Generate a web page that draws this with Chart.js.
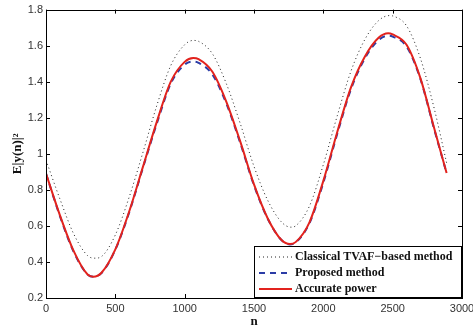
<!DOCTYPE html>
<html>
<head>
<meta charset="utf-8">
<script src="https://cdn.jsdelivr.net/npm/chart.js@4.4.1/dist/chart.umd.min.js"></script>
<style>
  html, body { margin: 0; padding: 0; background: #fff; }
  #wrap { width: 473px; height: 330px; }
</style>
</head>
<body>
<div id="wrap"><canvas id="chart" width="473" height="330"></canvas></div>
<script>
// values
var nAccurate = [0, 100, 200, 300, 341, 400, 500, 600, 700, 800, 900, 1000, 1062, 1100, 1200, 1300, 1400, 1500, 1600, 1700, 1759, 1800, 1900, 2000, 2100, 2200, 2300, 2400, 2468, 2500, 2600, 2700, 2800, 2889];
var accurate = [0.89, 0.66, 0.46, 0.33, 0.318, 0.34, 0.47, 0.68, 0.93, 1.18, 1.40, 1.51, 1.531, 1.525, 1.455, 1.29, 1.07, 0.83, 0.64, 0.52, 0.499, 0.51, 0.62, 0.85, 1.12, 1.37, 1.54, 1.645, 1.669, 1.662, 1.605, 1.42, 1.14, 0.894];
var proposed = [0.89, 0.655, 0.455, 0.33, 0.318, 0.338, 0.468, 0.675, 0.925, 1.17, 1.39, 1.495, 1.512, 1.505, 1.44, 1.28, 1.062, 0.825, 0.638, 0.52, 0.497, 0.508, 0.615, 0.84, 1.11, 1.36, 1.53, 1.632, 1.655, 1.65, 1.595, 1.415, 1.135, 0.893];
var nClassical = [0, 100, 200, 300, 353, 400, 500, 600, 700, 800, 900, 1000, 1062, 1100, 1200, 1300, 1400, 1500, 1600, 1700, 1766, 1800, 1900, 2000, 2100, 2200, 2300, 2400, 2480, 2500, 2600, 2700, 2800, 2889];
var classical = [0.965, 0.75, 0.555, 0.435, 0.421, 0.43, 0.55, 0.76, 1.01, 1.27, 1.49, 1.605, 1.629, 1.624, 1.555, 1.39, 1.17, 0.93, 0.74, 0.62, 0.593, 0.6, 0.71, 0.94, 1.21, 1.46, 1.635, 1.74, 1.767, 1.765, 1.71, 1.53, 1.25, 0.95];

var xTicks = [0, 500, 1000, 1500, 2000, 2500, 3000];
var yTicks = [0.2, 0.4, 0.6, 0.8, 1, 1.2, 1.4, 1.6, 1.8];
var legendLabels = ['Classical TVAF\u2212based method', 'Proposed method', 'Accurate power'];

function pts(xs, ys) {
  return xs.map(function(x, i) { return {x: x, y: ys[i]}; });
}

var RED = '#e2231e', BLUE = '#2b3ca6', DOT = '#222';

// frame, inward ticks and legend box like the matlab figure
var matlabFrame = {
  id: 'matlabFrame',
  afterDatasetsDraw: function(chart) {
    var ctx = chart.ctx, a = chart.chartArea;
    var xs = chart.scales.x, ys = chart.scales.y;
    ctx.save();
    ctx.strokeStyle = '#000';
    ctx.lineWidth = 1;
    ctx.beginPath();
    xTicks.forEach(function(v) {
      var px = Math.round(xs.getPixelForValue(v)) + 0.5;
      ctx.moveTo(px, a.bottom); ctx.lineTo(px, a.bottom - 4);
      ctx.moveTo(px, a.top); ctx.lineTo(px, a.top + 4);
    });
    yTicks.forEach(function(v) {
      var py = Math.round(ys.getPixelForValue(v)) + 0.5;
      ctx.moveTo(a.left, py); ctx.lineTo(a.left + 4, py);
      ctx.moveTo(a.right, py); ctx.lineTo(a.right - 4, py);
    });
    ctx.stroke();
    ctx.strokeRect(Math.round(a.left) + 0.5, Math.round(a.top) + 0.5,
                   Math.round(a.right - a.left), Math.round(a.bottom - a.top));

    // legend
    var bx = 254.5, by = 246.5, bw = 207, bh = 51;
    ctx.fillStyle = '#fff';
    ctx.fillRect(bx, by, bw, bh);
    ctx.strokeRect(bx, by, bw, bh);
    var styles = [
      {c: DOT, w: 1, d: [1, 3]},
      {c: BLUE, w: 2, d: [6, 5]},
      {c: RED, w: 2, d: []}
    ];
    ctx.font = 'bold 12px "Liberation Serif", "Times New Roman", serif';
    ctx.textBaseline = 'middle';
    legendLabels.forEach(function(t, i) {
      var yy = 257 + i * 16;
      ctx.beginPath();
      ctx.strokeStyle = styles[i].c;
      ctx.lineWidth = styles[i].w;
      ctx.setLineDash(styles[i].d);
      ctx.moveTo(259, yy); ctx.lineTo(292, yy);
      ctx.stroke();
      ctx.setLineDash([]);
      ctx.fillStyle = '#111';
      ctx.fillText(t, 295, yy);
    });
    ctx.restore();
  }
};

new Chart(document.getElementById('chart'), {
  type: 'line',
  data: {
    datasets: [
      {
        label: legendLabels[2], data: pts(nAccurate, accurate),
        borderColor: RED, borderWidth: 2, order: 0
      },
      {
        label: legendLabels[1], data: pts(nAccurate, proposed),
        borderColor: BLUE, borderWidth: 2, borderDash: [6, 5], order: 1
      },
      {
        label: legendLabels[0], data: pts(nClassical, classical),
        borderColor: DOT, borderWidth: 1, borderDash: [1, 3], order: 2
      }
    ]
  },
  options: {
    responsive: false,
    animation: false,
    events: [],
    layout: { padding: { top: 9, right: 11, left: 0, bottom: 0 } },
    elements: {
      point: { radius: 0 },
      line: { cubicInterpolationMode: 'monotone', fill: false }
    },
    plugins: { legend: { display: false }, tooltip: { enabled: false } },
    scales: {
      x: {
        type: 'linear', min: 0, max: 3000,
        afterBuildTicks: function(s) { s.ticks = xTicks.map(function(v) { return {value: v}; }); },
        afterFit: function(s) { s.height = 32; s.paddingLeft = 0; s.paddingRight = 0; },
        grid: { display: false, drawTicks: false },
        border: { display: false },
        ticks: {
          padding: 4, color: '#333', maxRotation: 0,
          font: { family: '"Liberation Sans", Arial, sans-serif', size: 11 },
          callback: function(v) { return String(v); }
        },
        title: {
          display: true, text: 'n', color: '#111',
          padding: { top: 0, bottom: 1 },
          font: { family: '"Liberation Serif", "Times New Roman", serif', size: 13, weight: 'bold' }
        }
      },
      y: {
        min: 0.2, max: 1.8,
        afterBuildTicks: function(s) { s.ticks = yTicks.map(function(v) { return {value: v}; }); },
        afterFit: function(s) { s.width = 46; },
        grid: { display: false, drawTicks: false },
        border: { display: false },
        ticks: {
          padding: 3, color: '#333',
          font: { family: '"Liberation Sans", Arial, sans-serif', size: 11 },
          callback: function(v) { return String(Number(v.toFixed(1))); }
        },
        title: {
          display: true, text: 'E|y(n)|\u00b2', color: '#111',
          padding: { top: 10, bottom: 0 },
          font: { family: '"Liberation Serif", "Times New Roman", serif', size: 13, weight: 'bold' }
        }
      }
    }
  },
  plugins: [matlabFrame]
});
</script>
</body>
</html>
